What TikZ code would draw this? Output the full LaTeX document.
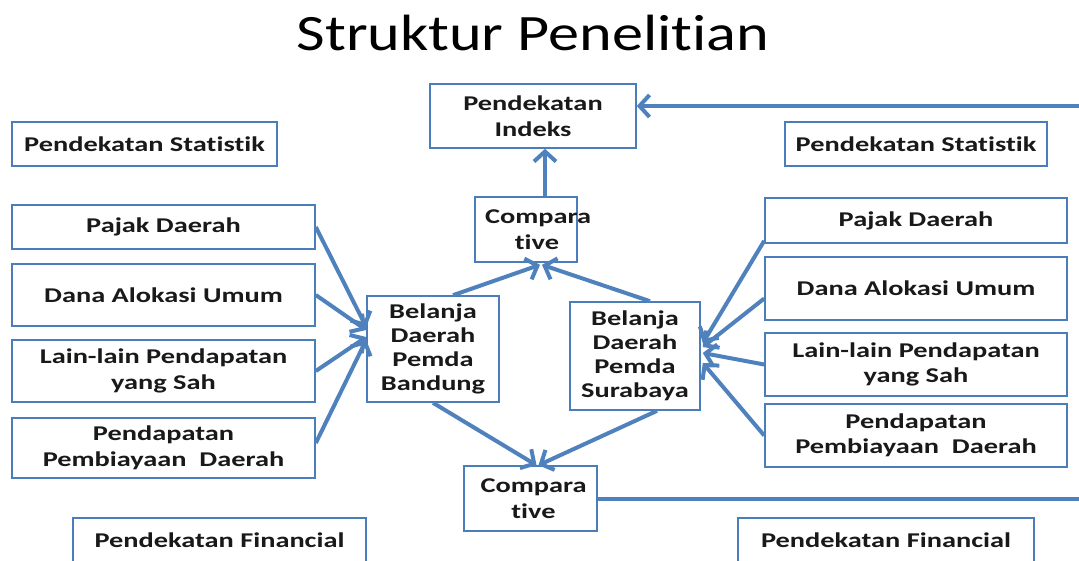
\documentclass[tikz,border=0pt]{standalone}
\usepackage{fontspec}
\setmainfont{Carlito}[FakeStretch=1.35,Ligatures=NoCommon]
\newfontfamily\titlefont{Carlito}[FakeStretch=1.22,Ligatures=NoCommon]
\usetikzlibrary{arrows.meta,calc}
\definecolor{boxblue}{HTML}{4A7EBB}
\definecolor{arrblue}{HTML}{4F81BD}
\tikzset{
  box/.style={draw=boxblue, line width=1.6pt, fill=white, align=center, inner sep=0pt,
    font=\fontsize{21}{25.5}\selectfont\bfseries, text=black!90},
  arr/.style={draw=arrblue, line width=4pt, -{Straight Barb[length=10pt,width=22pt,line width=4pt]}},
  plain/.style={draw=arrblue, line width=4pt},
}
\begin{document}
\begin{tikzpicture}[x=1pt,y=-1pt]
\useasboundingbox (0,0) rectangle (1079,560);
% title
\node[font=\titlefont\fontsize{51}{55}\selectfont, anchor=base] (title) at (533,50) {Struktur Penelitian};
% top
\node[box, minimum width=206pt, minimum height=64pt] (indeks) at (533,116) {Pendekatan\\Indeks};
\node[box, minimum width=265pt, minimum height=44pt] (statL) at (144.5,144) {Pendekatan Statistik};
\node[box, minimum width=262pt, minimum height=44pt] (statR) at (916,144) {Pendekatan Statistik};
\node[box, minimum width=102pt, minimum height=65pt] (compT) at (526,229.5) {\makebox[0pt]{\hspace*{24pt}Compara}\\\makebox[0pt]{\hspace*{22pt}tive}};
% left column
\node[box, minimum width=303pt, minimum height=44pt] (lp1) at (163.5,227) {Pajak Daerah};
\node[box, minimum width=303pt, minimum height=62pt] (lp2) at (163.5,295) {Dana Alokasi Umum};
\node[box, minimum width=303pt, minimum height=62pt] (lp3) at (163.5,371) {Lain-lain Pendapatan\\yang Sah};
\node[box, minimum width=303pt, minimum height=60pt] (lp4) at (163.5,448) {Pendapatan\\Pembiayaan~ Daerah};
% right column
\node[box, minimum width=302pt, minimum height=45pt] (rp1) at (916,220.5) {Pajak Daerah};
\node[box, minimum width=302pt, minimum height=63pt] (rp2) at (916,288.5) {Dana Alokasi Umum};
\node[box, minimum width=302pt, minimum height=63pt] (rp3) at (916,364.5) {Lain-lain Pendapatan\\yang Sah};
\node[box, minimum width=302pt, minimum height=63pt] (rp4) at (916,435.5) {Pendapatan\\Pembiayaan~ Daerah};
% middle
\node[box, minimum width=132pt, minimum height=106pt, font=\fontsize{21}{24}\selectfont\bfseries] (bandung) at (433,349) {Belanja\\Daerah\\Pemda\\Bandung};
\node[box, minimum width=130pt, minimum height=108pt, font=\fontsize{21}{24}\selectfont\bfseries] (surabaya) at (635,356) {Belanja\\Daerah\\Pemda\\Surabaya};
\node[box, minimum width=133pt, minimum height=65pt] (compB) at (530.5,498.5) {\hspace*{6pt}Compara\\\hspace*{6pt}tive};
% bottom
\node[box, minimum width=293pt, minimum height=44pt] (finL) at (219.5,540) {Pendekatan Financial};
\node[box, minimum width=296pt, minimum height=44pt] (finR) at (886,540) {Pendekatan Financial};
% coordinates for free ends
\coordinate (rin) at (1079,106);
\coordinate (rout) at (1079,498);
% connectors
\draw[arr] (rin) -- (rin -| indeks.east);
\draw[plain] (compB.east) -- (rout |- compB.east);
\draw[arr] ($(compT.north)+(19,0)$) -- ($(indeks.south)+(12,0)$);
\draw[arr] (lp1.east) -- ($(bandung.west)+(0,-22)$);
\draw[arr] (lp2.east) -- ($(bandung.west)+(0,-19)$);
\draw[arr] (lp3.east) -- ($(bandung.west)+(0,-12)$);
\draw[arr] ($(lp4.east)+(0,-5)$) -- ($(bandung.west)+(0,-9)$);
\draw[arr] ($(rp1.south west)+(0,-3)$) -- ($(surabaya.east)+(2,-13)$);
\draw[arr] ($(rp2.west)+(0,10)$) -- ($(surabaya.east)+(2,-9)$);
\draw[arr] (rp3.west) -- ($(surabaya.east)+(2,-3)$);
\draw[arr] (rp4.west) -- ($(surabaya.east)+(2,7)$);
\draw[arr] ($(bandung.north)+(20,0)$) -- ($(compT.south)+(14,2)$);
\draw[arr] ($(surabaya.north)+(15,0)$) -- ($(compT.south)+(16,2)$);
\draw[arr] (bandung.south) -- ($(compB.north)+(6,0)$);
\draw[arr] ($(surabaya.south)+(22,0)$) -- ($(compB.north)+(8,0)$);
\end{tikzpicture}
\end{document}
